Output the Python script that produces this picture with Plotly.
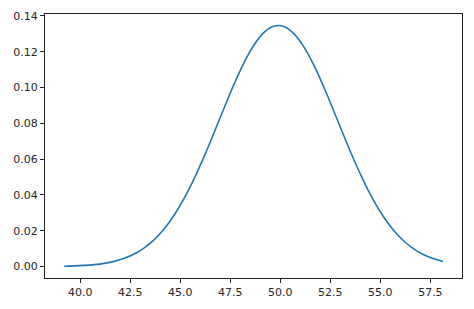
import plotly.graph_objects as go

x_vals = [39.2, 39.7, 40.2, 40.7, 41.2, 41.7, 42.2, 42.7, 43.2, 43.7, 44.2, 44.7,
          45.2, 45.7, 46.2, 46.7, 47.2, 47.7, 48.2, 48.7, 49.2, 49.7, 50.2, 50.7,
          51.2, 51.7, 52.2, 52.7, 53.2, 53.7, 54.2, 54.7, 55.2, 55.7, 56.2, 56.7,
          57.2, 57.7, 58.13]
y_vals = [0.000196, 0.000355, 0.000627, 0.001074, 0.001791, 0.00290, 0.00457, 0.00699,
          0.01039, 0.01502, 0.02110, 0.02879, 0.03818, 0.04921, 0.06166, 0.07508,
          0.08885, 0.10218, 0.11421, 0.12407, 0.13098, 0.13439, 0.13401, 0.12986,
          0.12231, 0.11196, 0.09960, 0.08610, 0.07234, 0.05908, 0.04689, 0.03617,
          0.02710, 0.01975, 0.01398, 0.00962, 0.00643, 0.00418, 0.00282]
x_ticks = [40.0, 42.5, 45.0, 47.5, 50.0, 52.5, 55.0, 57.5]
y_ticks = [0.00, 0.02, 0.04, 0.06, 0.08, 0.10, 0.12, 0.14]

fig = go.Figure()
fig.add_trace(go.Scatter(x=x_vals, y=y_vals, mode="lines",
                         line=dict(color="#1f77b4", width=1.6, shape="spline"),
                         showlegend=False, hoverinfo="skip"))

axis_common = dict(showgrid=False, zeroline=False, showline=True, linecolor="#222222",
                   linewidth=1, mirror=True, ticks="outside", ticklen=4,
                   tickcolor="#222222", tickwidth=1,
                   tickfont=dict(family="DejaVu Sans", size=11, color="#262626"))
fig.update_xaxes(range=[38.24, 59.08], tickvals=x_ticks,
                 ticktext=[f"{v:.1f}" for v in x_ticks], **axis_common)
fig.update_yaxes(range=[-0.0064, 0.1411], tickvals=y_ticks,
                 ticktext=[f"{v:.2f}" for v in y_ticks], **axis_common)

fig.update_layout(width=474, height=309, margin=dict(l=45, r=12, t=10, b=28),
                  paper_bgcolor="white", plot_bgcolor="white")
fig.write_html("out.html")
